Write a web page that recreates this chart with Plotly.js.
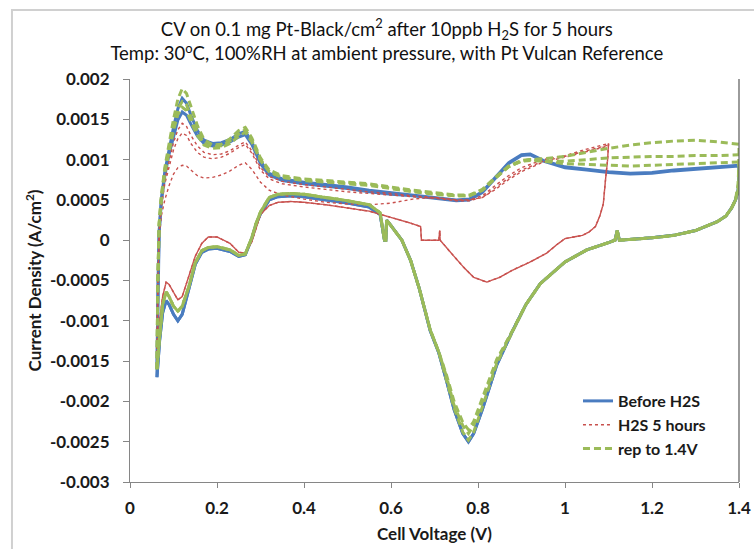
<!DOCTYPE html>
<html><head><meta charset="utf-8">
<script src="https://cdn.plot.ly/plotly-3.0.1.min.js"></script>
<style>html,body{margin:0;padding:0;background:#fff}#chart{width:754px;height:549px}</style>
</head><body><div id="chart"></div>
<script>
// ---- potential grids (V) ----
const anodV14 = [0.062,0.064,0.067,0.072,0.08,0.09,0.1,0.11,0.12,0.13,0.14,0.155,0.17,0.19,0.21,0.23,0.25,0.265,0.28,0.3,0.32,0.35,0.4,0.45,0.5,0.55,0.6,0.65,0.7,0.75,0.78,0.81,0.84,0.87,0.9,0.92,0.95,1.0,1.05,1.1,1.15,1.2,1.25,1.3,1.35,1.4];
const cathV14 = [1.4,1.398,1.392,1.383,1.37,1.35,1.3,1.25,1.2,1.15,1.125,1.12,1.115,1.1,1.05,1.0,0.943,0.91,0.88,0.843,0.81,0.79,0.778,0.765,0.745,0.728,0.71,0.69,0.665,0.645,0.625,0.6,0.59,0.588,0.585,0.575,0.55,0.5,0.45,0.4,0.37,0.34,0.32,0.3,0.29,0.28,0.265,0.25,0.23,0.2,0.18,0.165,0.15,0.135,0.12,0.11,0.1,0.09,0.083,0.075,0.068,0.062];
const anodV11 = [0.062,0.064,0.067,0.072,0.08,0.09,0.1,0.11,0.12,0.13,0.14,0.155,0.17,0.19,0.21,0.23,0.25,0.265,0.28,0.3,0.32,0.35,0.4,0.45,0.5,0.55,0.6,0.65,0.7,0.75,0.78,0.81,0.84,0.87,0.9,0.95,1.0,1.05,1.1];
const cathV11 = [1.1,1.098,1.094,1.088,1.08,1.07,1.055,1.04,1.02,1.0,0.98,0.958,0.92,0.88,0.85,0.82,0.79,0.766,0.74,0.713,0.712,0.71,0.67,0.668,0.64,0.6,0.575,0.55,0.5,0.45,0.4,0.37,0.34,0.32,0.3,0.29,0.28,0.265,0.25,0.23,0.2,0.18,0.165,0.15,0.135,0.12,0.11,0.1,0.09,0.083,0.075,0.068,0.062];

// ---- Before H2S (A/cm2) ----
const blueAnodI1 = [-0.0017,-0.0006,0.0001,0.0005,0.00085,0.00115,0.0014,0.00163,0.00176,0.0017,0.00155,0.00136,0.00124,0.0012,0.00121,0.00125,0.00132,0.00135,0.00122,0.00098,0.00083,0.00076,0.00072,0.00069,0.00066,0.00062,0.00059,0.00056,0.00053,0.0005,0.00051,0.0006,0.00078,0.00096,0.00106,0.00107,0.00099,0.00091,0.00088,0.00085,0.00083,0.00084,0.00087,0.00089,0.00091,0.00093];
const blueAnodI2 = [-0.0016,-0.0006,0.0001,0.00048,0.0008,0.00107,0.0013,0.00149,0.00159,0.00155,0.00144,0.00129,0.0012,0.00117,0.00118,0.00122,0.00128,0.00131,0.00119,0.00095,0.00081,0.00074,0.0007,0.00067,0.00064,0.0006,0.00057,0.00055,0.00052,0.00049,0.0005,0.00059,0.00077,0.00095,0.00105,0.00106,0.00098,0.0009,0.00087,0.00084,0.00082,0.00083,0.00086,0.00088,0.0009,0.00092];
const blueCathI = [0.0008,0.00062,0.0005,0.0004,0.0003,0.00023,0.00012,0.00006,0.00003,0.00001,0.0,0.00012,0.0,-0.00003,-0.00012,-0.00027,-0.00054,-0.0008,-0.00112,-0.00155,-0.0021,-0.0024,-0.0025,-0.0024,-0.0021,-0.00175,-0.0014,-0.00112,-0.0006,-0.00025,0.0,0.00018,0.00025,0.0,0.0,0.00032,0.00041,0.00046,0.0005,0.00054,0.00055,0.00054,0.0005,0.00033,0.0002,0.00002,-0.00018,-0.0002,-0.00014,-0.0001,-0.00011,-0.00015,-0.0003,-0.0006,-0.00092,-0.001,-0.00092,-0.0008,-0.00075,-0.0009,-0.00125,-0.0017];

// ---- H2S 5 hours ----
const redAnodI1 = [-0.0015,-0.0005,0.0001,0.00045,0.00075,0.001,0.00121,0.00137,0.00145,0.00141,0.0013,0.00117,0.00109,0.00106,0.00107,0.00111,0.00118,0.00122,0.00111,0.0009,0.00079,0.00073,0.00069,0.00066,0.00063,0.0006,0.00058,0.00055,0.00053,0.0005,0.0005,0.00055,0.00068,0.0008,0.0009,0.001,0.00105,0.00113,0.0012];
const redAnodI2 = [-0.0015,-0.0005,0.0001,0.0004,0.0007,0.00093,0.00112,0.00126,0.00133,0.0013,0.0012,0.00109,0.00103,0.00101,0.00103,0.00108,0.00115,0.00119,0.00108,0.00087,0.00076,0.0007,0.00066,0.00063,0.0006,0.00058,0.00056,0.00054,0.00052,0.00049,0.00049,0.00053,0.00065,0.00077,0.00087,0.00098,0.00104,0.00111,0.00118];
const redAnodI3 = [-0.0014,-0.0005,0.0,0.0003,0.0005,0.00068,0.00082,0.0009,0.00093,0.00092,0.00087,0.0008,0.00077,0.00078,0.00081,0.00086,0.00093,0.00096,0.00088,0.00072,0.00062,0.00056,0.00051,0.00047,0.00045,0.00044,0.00046,0.00051,0.00053,0.0005,0.0005,0.00053,0.00063,0.00075,0.00085,0.00097,0.00103,0.0011,0.00117];
const redCathI = [0.0012,0.001,0.0008,0.00045,0.0003,0.00017,0.0001,0.00006,0.00004,0.00002,-0.00006,-0.00016,-0.00027,-0.00037,-0.00046,-0.00052,-0.00046,-0.00033,-0.00017,0.0,0.00012,0.0,0.0,0.00017,0.00022,0.00028,0.00032,0.00036,0.0004,0.00044,0.00047,0.00048,0.00047,0.00043,0.00032,0.00016,-0.00002,-0.00016,-0.00015,-0.00004,0.00004,0.00004,-0.00004,-0.0002,-0.00045,-0.0007,-0.00074,-0.00065,-0.00055,-0.00052,-0.0007,-0.001,-0.0015];

// ---- rep to 1.4V ----
const greenAnodI1 = [-0.0016,-0.0005,0.0002,0.00055,0.0009,0.00122,0.0015,0.00175,0.00188,0.00182,0.00165,0.00142,0.00125,0.00118,0.00119,0.00126,0.00136,0.0014,0.00127,0.00102,0.00087,0.0008,0.00076,0.00074,0.00072,0.0007,0.00066,0.00062,0.00059,0.00056,0.00056,0.00063,0.00078,0.00092,0.00099,0.001,0.00098,0.00095,0.00094,0.00093,0.00092,0.00093,0.00094,0.00095,0.00096,0.00097];
const greenAnodI2 = [-0.0016,-0.0005,0.0002,0.00053,0.00087,0.00117,0.00142,0.00163,0.00172,0.00168,0.00153,0.00134,0.0012,0.00116,0.00117,0.00123,0.00132,0.00137,0.00124,0.001,0.00085,0.00078,0.00075,0.00073,0.00071,0.00069,0.00065,0.00061,0.00058,0.00055,0.00055,0.00062,0.00077,0.00091,0.00098,0.00099,0.00098,0.00098,0.001,0.00102,0.00103,0.00104,0.00104,0.00105,0.00105,0.00106];
const greenAnodI3 = [-0.0016,-0.0005,0.0002,0.0005,0.00083,0.00112,0.00136,0.00156,0.00165,0.00161,0.00147,0.0013,0.00118,0.00114,0.00115,0.0012,0.00129,0.00134,0.00122,0.00099,0.00085,0.00078,0.00074,0.00072,0.0007,0.00068,0.00064,0.0006,0.00057,0.00055,0.00055,0.00062,0.00077,0.00091,0.00098,0.001,0.00101,0.00104,0.00109,0.00114,0.00118,0.00121,0.00123,0.00124,0.00122,0.00119];
const greenCathI1 = [0.0008,0.00062,0.0005,0.0004,0.0003,0.00023,0.00012,0.00006,0.00003,0.00001,0.0,0.00012,0.0,-0.00003,-0.00012,-0.00027,-0.00054,-0.0008,-0.00112,-0.00153,-0.00207,-0.00238,-0.00248,-0.00238,-0.00208,-0.00173,-0.00139,-0.00111,-0.0006,-0.00025,0.0,0.00018,0.00025,0.0,0.0,0.00034,0.00044,0.00049,0.00053,0.00057,0.00058,0.00057,0.00053,0.00035,0.00021,0.00003,-0.00017,-0.00019,-0.00012,-0.00008,-0.00009,-0.00013,-0.00028,-0.00058,-0.00082,-0.00088,-0.00082,-0.0007,-0.00064,-0.0008,-0.0012,-0.0016];
const greenCathI2 = [0.0009,0.00065,0.0005,0.0004,0.0003,0.00023,0.00012,0.00006,0.00003,0.00001,0.0,0.00012,0.0,-0.00003,-0.00012,-0.00027,-0.00054,-0.0008,-0.00112,-0.0015,-0.002,-0.0023,-0.0024,-0.0023,-0.00205,-0.0017,-0.00139,-0.00111,-0.0006,-0.00025,0.0,0.00018,0.00025,0.0,0.0,0.00034,0.00044,0.00049,0.00053,0.00057,0.00058,0.00057,0.00053,0.00035,0.00021,0.00003,-0.00017,-0.00019,-0.00012,-0.00008,-0.00009,-0.00013,-0.00028,-0.00058,-0.00082,-0.00088,-0.00082,-0.0007,-0.00064,-0.0008,-0.0012,-0.0016];
const greenCathI3 = [0.001,0.0007,0.0005,0.0004,0.0003,0.00023,0.00012,0.00006,0.00003,0.00001,0.0,0.00012,0.0,-0.00003,-0.00012,-0.00027,-0.00054,-0.0008,-0.00112,-0.00148,-0.00196,-0.00225,-0.00235,-0.00226,-0.002,-0.00168,-0.00139,-0.00111,-0.0006,-0.00025,0.0,0.00018,0.00025,0.0,0.0,0.00034,0.00044,0.00049,0.00053,0.00057,0.00058,0.00057,0.00053,0.00035,0.00021,0.00003,-0.00017,-0.00019,-0.00012,-0.00008,-0.00009,-0.00013,-0.00028,-0.00058,-0.00082,-0.00088,-0.00082,-0.0007,-0.00064,-0.0008,-0.0012,-0.0016];

// ---- tick labels ----
const yTickVals = [0.002,0.0015,0.001,0.0005,0,-0.0005,-0.001,-0.0015,-0.002,-0.0025,-0.003];
const yTickText = ["0.002","0.0015","0.001","0.0005","0","-0.0005","-0.001","-0.0015","-0.002","-0.0025","-0.003"];
const xTickVals = [0,0.2,0.4,0.6,0.8,1.0,1.2,1.4];
const xTickText = ["0","0.2","0.4","0.6","0.8","1","1.2","1.4"];

const seriesNames = ["Before H2S","H2S 5 hours","rep to 1.4V"];
const styles = [
  {color:'#4A7CC0', width:3, dash:'solid'},
  {color:'#C8504D', width:1.4, dash:'dot'},
  {color:'#9BBB59', width:3, dash:'7px,4px'}
];

const loops = [
  [0, anodV14, blueAnodI1, cathV14, blueCathI],
  [0, anodV14, blueAnodI2, cathV14, blueCathI],
  [1, anodV11, redAnodI1, cathV11, redCathI],
  [1, anodV11, redAnodI2, cathV11, redCathI],
  [1, anodV11, redAnodI3, cathV11, redCathI],
  [2, anodV14, greenAnodI1, cathV14, greenCathI1],
  [2, anodV14, greenAnodI2, cathV14, greenCathI2],
  [2, anodV14, greenAnodI3, cathV14, greenCathI3]
];
const shown = {};
const traces = loops.map(function(l){
  const s = l[0];
  const first = !shown[s]; shown[s] = true;
  return {
    type:'scatter', mode:'lines',
    x: l[1].concat(l[3]), y: l[2].concat(l[4]),
    name: seriesNames[s], legendgroup: 'g'+s, showlegend: first,
    line: {color: styles[s].color, width: styles[s].width, dash: styles[s].dash},
    hoverinfo:'skip'
  };
});

const FONT = 'Lato, "Open Sans", Arial, sans-serif';
const layout = {
  width:754, height:549,
  margin:{l:130, r:15, t:79, b:67},
  paper_bgcolor:'#ffffff', plot_bgcolor:'#ffffff',
  font:{family:FONT, color:'#1a1a1a'},
  title:{
    text:'CV on 0.1 mg Pt-Black/cm<sup>2</sup> after 10ppb H<sub>2</sub>S for 5 hours<br>Temp: 30<sup>o</sup>C, 100%RH at ambient pressure, with Pt Vulcan Reference',
    font:{family:FONT, size:18.5, color:'#111111'},
    x:0.513, xref:'container', xanchor:'center',
    y:0.934, yref:'container', yanchor:'middle'
  },
  xaxis:{
    range:[0,1.4], tickvals:xTickVals, ticktext:xTickText,
    showgrid:false, zeroline:false,
    showline:true, linecolor:'#868686', linewidth:1,
    ticks:'outside', ticklen:5, tickcolor:'#868686',
    tickfont:{family:FONT, size:17, weight:'bold', color:'#1a1a1a'},
    ticklabelstandoff:6,
    title:{text:'Cell Voltage (V)', font:{family:FONT, size:17, weight:'bold', color:'#1a1a1a'}, standoff:10}
  },
  yaxis:{
    range:[-0.003,0.002], tickvals:yTickVals, ticktext:yTickText,
    showgrid:false, zeroline:false,
    showline:true, linecolor:'#868686', linewidth:1,
    ticks:'outside', ticklen:6, tickcolor:'#868686',
    tickfont:{family:FONT, size:17, weight:'bold', color:'#1a1a1a'},
    ticklabelstandoff:10,
    title:{text:'Current Density (A/cm<sup>2</sup>)', font:{family:FONT, size:17, weight:'bold', color:'#1a1a1a'}, standoff:3}
  },
  showlegend:true,
  legend:{
    x:0.7356, y:0.2432, xanchor:'left', yanchor:'top',
    bgcolor:'rgba(0,0,0,0)', borderwidth:0,
    font:{family:FONT, size:16, weight:'bold', color:'#1a1a1a'},
    tracegroupgap:0, itemwidth:30
  },
  shapes:[
    {type:'line', xref:'paper', yref:'paper', x0:1, x1:1, y0:0, y1:1, line:{color:'#595959', width:1.2}},
    {type:'rect', xref:'paper', yref:'paper', x0:-0.1938, x1:1.2, y0:-0.3, y1:1.1712, line:{color:'#d0d0d0', width:2}, fillcolor:'rgba(0,0,0,0)'}
  ]
};
Plotly.newPlot('chart', traces, layout, {staticPlot:true, displayModeBar:false});
</script>
</body></html>
